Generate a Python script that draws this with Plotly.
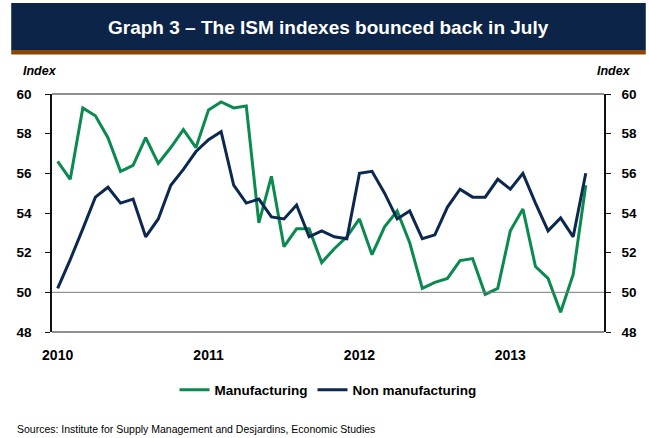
import plotly.graph_objects as go

# ---------------- data ----------------
years = [2010, 2011, 2012, 2013]
month_names = ["Jan", "Feb", "Mar", "Apr", "May", "Jun", "Jul", "Aug", "Sep", "Oct", "Nov", "Dec"]
months = [f"{m} {y}" for y in years for m in month_names][:43] + ["Aug 2013"]

manufacturing = [56.6, 55.7, 59.3, 58.9, 57.8, 56.1, 56.4, 57.8, 56.5, 57.3, 58.2, 57.3,
                 59.2, 59.6, 59.3, 59.4, 53.5, 55.85, 52.3, 53.2, 53.2, 51.5, 52.2, 52.8,
                 53.7, 51.9, 53.3, 54.1, 52.5, 50.2, 50.5, 50.7, 51.6, 51.7, 49.9, 50.2,
                 53.1, 54.2, 51.3, 50.7, 49.0, 50.9, 55.4]
non_manufacturing = [50.2, 51.65, 53.2, 54.8, 55.3, 54.5, 54.7, 52.8, 53.7, 55.4, 56.2, 57.1,
                     57.7, 58.1, 55.4, 54.5, 54.7, 53.8, 53.7, 54.4, 52.8, 53.1, 52.8, 52.7,
                     56.0, 56.1, 55.0, 53.7, 54.1, 52.7, 52.9, 54.3, 55.2, 54.8, 54.8, 55.7,
                     55.2, 56.0, 54.5, 53.1, 53.75, 52.8, 56.0]

year_ticks = ["Jan 2010", "Jan 2011", "Jan 2012", "Jan 2013"]
year_labels = ["2010", "2011", "2012", "2013"]
y_ticks = [48, 50, 52, 54, 56, 58, 60]

title_text = "Graph 3 – The ISM indexes bounced back in July"
source_text = "Sources: Institute for Supply Management and Desjardins, Economic Studies"

# ---------------- styling ----------------
GREEN = "#0a8a4e"
NAVY = "#0c2850"
BANNER = "#0b2448"
BROWN = "#8a4604"
FONT = "Arial, Liberation Sans, Helvetica, sans-serif"

W, H = 649, 438
L, R, T, B = 52, 42, 94, 106
pw, ph = W - L - R, H - T - B


def px(x):
    return (x - L) / pw


def py(y):
    return (H - B - y) / ph


fig = go.Figure()
fig.add_trace(go.Scatter(x=months[:len(manufacturing)], y=manufacturing, mode="lines",
                         name="Manufacturing", line=dict(color=GREEN, width=3)))
fig.add_trace(go.Scatter(x=months[:len(non_manufacturing)], y=non_manufacturing, mode="lines",
                         name="Non manufacturing", line=dict(color=NAVY, width=3)))
# invisible trace for the right axis
fig.add_trace(go.Scatter(x=months[:1], y=[None], yaxis="y2", showlegend=False, hoverinfo="skip"))

shapes = [
    # banner
    dict(type="rect", xref="paper", yref="paper", x0=px(11), x1=px(649), y0=py(50), y1=py(3),
         fillcolor=BANNER, line=dict(width=0), layer="below"),
    dict(type="rect", xref="paper", yref="paper", x0=px(11), x1=px(649), y0=py(54.5), y1=py(50),
         fillcolor=BROWN, line=dict(width=0), layer="below"),
    # 50 reference line
    dict(type="line", xref="paper", yref="y", x0=0, x1=1, y0=50, y1=50,
         line=dict(color="#7a7a7a", width=1)),
    # top and bottom frame
    dict(type="line", xref="paper", yref="paper", x0=0, x1=1, y0=1, y1=1,
         line=dict(color="#222222", width=1.2)),
    dict(type="line", xref="paper", yref="paper", x0=0, x1=1, y0=0, y1=0,
         line=dict(color="#222222", width=1.2)),
]

annotations = [
    dict(text=f"<b>{title_text}</b>", xref="paper", yref="paper", x=px(330), y=py(27.5),
         xanchor="center", yanchor="middle", showarrow=False,
         font=dict(family=FONT, size=19, color="white")),
    dict(text="<b><i>Index</i></b>", xref="paper", yref="paper", x=px(21), y=py(71),
         xanchor="left", yanchor="middle", showarrow=False,
         font=dict(family=FONT, size=12.5, color="black")),
    dict(text="<b><i>Index</i></b>", xref="paper", yref="paper", x=px(636), y=py(71),
         xanchor="right", yanchor="middle", showarrow=False,
         font=dict(family=FONT, size=12.5, color="black")),
    dict(text=source_text, xref="paper", yref="paper", x=px(15), y=py(429),
         xanchor="left", yanchor="middle", showarrow=False,
         font=dict(family=FONT, size=10.5, color="black")),
]

axis_font = dict(family=FONT, size=13.5, color="black", weight="bold")

fig.update_layout(
    width=W, height=H,
    margin=dict(l=L, r=R, t=T, b=B, pad=0),
    paper_bgcolor="white", plot_bgcolor="white",
    font=dict(family=FONT, color="black"),
    showlegend=True,
    legend=dict(orientation="h", x=0.5, xanchor="center", y=py(390), yanchor="middle",
                font=dict(family=FONT, size=13.5, color="black", weight="bold"),
                itemwidth=30, bgcolor="rgba(0,0,0,0)"),
    xaxis=dict(type="category", categoryorder="array", categoryarray=months,
               range=[-0.45, 43.45], tickmode="array", tickvals=year_ticks, ticktext=year_labels,
               showgrid=False, zeroline=False, showline=False, ticks="",
               tickfont=dict(family=FONT, size=14, color="black", weight="bold"),
               ticklabelstandoff=13),
    yaxis=dict(range=[48, 60], tickmode="array", tickvals=y_ticks, showgrid=False, zeroline=False,
               showline=True, linecolor="#111111", linewidth=1.5, ticks="outside", ticklen=5,
               tickcolor="#111111", tickfont=axis_font, ticklabelstandoff=11),
    yaxis2=dict(range=[48, 60], tickmode="array", tickvals=y_ticks, overlaying="y", side="right",
                showgrid=False, zeroline=False, showline=True, linecolor="#111111", linewidth=1.5,
                ticks="outside", ticklen=5, tickcolor="#111111", tickfont=axis_font,
                ticklabelstandoff=8),
    shapes=shapes,
    annotations=annotations,
)

fig.write_html("out.html")
